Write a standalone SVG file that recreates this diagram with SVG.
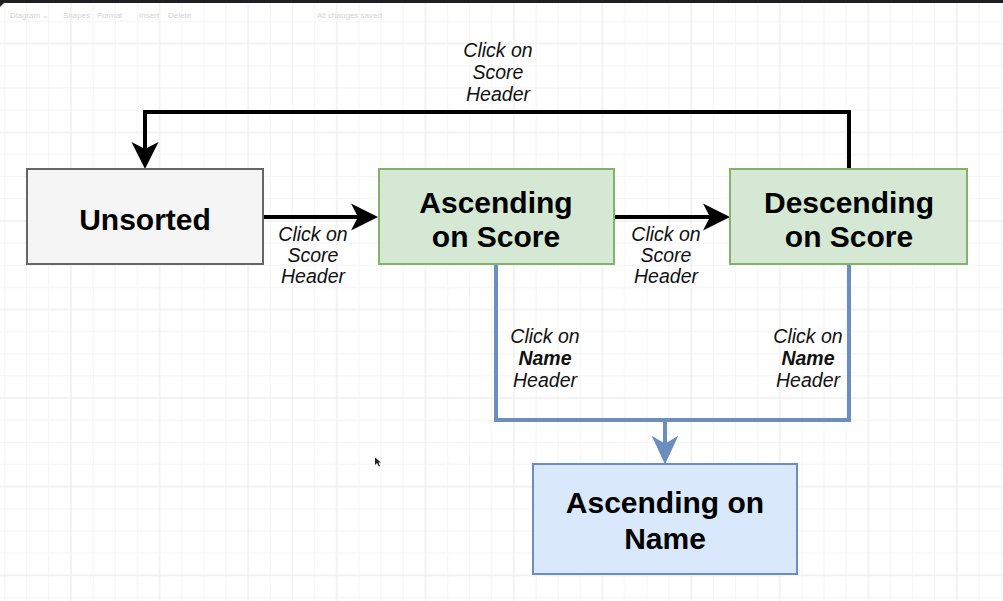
<svg xmlns="http://www.w3.org/2000/svg" width="1003" height="601" viewBox="0 0 1003 601">
<style>
.node-gray{fill:#f5f5f5;stroke:#666666;stroke-width:2}
.node-green{fill:#d5e8d4;stroke:#82b366;stroke-width:2}
.node-blue{fill:#dae8fc;stroke:#6c8ebf;stroke-width:2}
.ntext{font-family:"Liberation Sans",Arial,Helvetica,sans-serif;font-weight:bold;font-size:30px;text-anchor:middle;fill:#000}
.ltext{font-family:"Liberation Sans",Arial,Helvetica,sans-serif;font-style:italic;font-size:19.5px;text-anchor:middle;fill:#111}
.edge-black{fill:none;stroke:#000;stroke-width:4;stroke-linejoin:miter}
.edge-blue{fill:none;stroke:#6c8ebf;stroke-width:4;stroke-linejoin:miter}
.tb{font-family:"Liberation Sans",Arial,sans-serif;font-size:8px;fill:#d4d4d4}
</style>
<defs>
<pattern id="grid" patternUnits="userSpaceOnUse" x="-18.65" y="-45.9" width="88.6" height="88.6">
<path d="M1,0V88.6M23.15,0V88.6M45.3,0V88.6M67.45,0V88.6M0,1H88.6M0,23.15H88.6M0,45.3H88.6M0,67.45H88.6" stroke="#f4f4f4" stroke-width="1"/>
<path d="M1,0V88.6M0,1H88.6" stroke="#ececec" stroke-width="1"/>
</pattern>
<marker id="arrBlack" markerUnits="userSpaceOnUse" viewBox="0 -14 28 28" refX="7" refY="0" markerWidth="28" markerHeight="28" orient="auto">
<path d="M27,0L0,-13.5L7,0L0,13.5Z" fill="#000"/>
</marker>
<marker id="arrBlue" markerUnits="userSpaceOnUse" viewBox="0 -14 29 28" refX="8" refY="0" markerWidth="29" markerHeight="28" orient="auto">
<path d="M28,0L0,-13L8,0L0,13Z" fill="#6c8ebf"/>
</marker>
</defs>
<rect x="0" y="0" width="1003" height="601" fill="#ffffff"/>
<rect x="0" y="0" width="1003" height="601" fill="url(#grid)"/>
<rect x="0" y="0" width="1003" height="3" fill="#1f2023"/>
<path d="M0,3L4,3L0,7Z" fill="#1f2023"/>
<g id="toolbar">
<text class="tb" x="10" y="18">Diagram ⌄</text>
<text class="tb" x="63" y="18">Shapes</text>
<text class="tb" x="97" y="18">Format</text>
<text class="tb" x="139" y="18">Insert</text>
<text class="tb" x="168" y="18" fill="#e8e8e8">Delete</text>
<text class="tb" x="317" y="18">All changes saved</text>
</g>
<g id="connectors">
<path class="edge-black" d="M263,217H358" marker-end="url(#arrBlack)"/>
<path class="edge-black" d="M614,217H710" marker-end="url(#arrBlack)"/>
<path class="edge-black" d="M849,169V112H145V149" marker-end="url(#arrBlack)"/>
<path class="edge-blue" d="M496,264V420H665V444" marker-end="url(#arrBlue)"/>
<path class="edge-blue" d="M849,264V420H665V444" marker-end="url(#arrBlue)"/>
<g id="label-1"><text class="ltext" x="313" y="240.5">Click on</text><text class="ltext" x="313" y="261.5">Score</text><text class="ltext" x="313" y="282.5">Header</text></g>
<g id="label-2"><text class="ltext" x="666" y="240.5">Click on</text><text class="ltext" x="666" y="261.5">Score</text><text class="ltext" x="666" y="282.5">Header</text></g>
<g id="label-3"><text class="ltext" x="498" y="57">Click on</text><text class="ltext" x="498" y="79">Score</text><text class="ltext" x="498" y="101">Header</text></g>
<g id="label-4"><text class="ltext" x="545" y="343">Click on</text><text class="ltext" x="545" y="364.5" font-weight="bold">Name</text><text class="ltext" x="545" y="386.5">Header</text></g>
<g id="label-5"><text class="ltext" x="808" y="343">Click on</text><text class="ltext" x="808" y="364.5" font-weight="bold">Name</text><text class="ltext" x="808" y="386.5">Header</text></g>
</g>
<g id="unsorted">
<rect class="node-gray" x="27" y="169" width="236" height="95"/>
<text class="ntext" x="145" y="230" fill="#333333">Unsorted</text>
</g>
<g id="ascending-score">
<rect class="node-green" x="379" y="169" width="235" height="95"/>
<text class="ntext" x="496" y="213">Ascending</text>
<text class="ntext" x="496" y="247">on Score</text>
</g>
<g id="descending-score">
<rect class="node-green" x="730" y="169" width="237" height="95"/>
<text class="ntext" x="849" y="213">Descending</text>
<text class="ntext" x="849" y="247">on Score</text>
</g>
<g id="ascending-name">
<rect class="node-blue" x="533" y="464" width="264" height="110"/>
<text class="ntext" x="665" y="513">Ascending on</text>
<text class="ntext" x="665" y="549">Name</text>
</g>
<path d="M375,457.5V465L377,463L378.8,466.5L380,466L378.3,462.5L381,462.5Z" fill="#222"/>
</svg>
